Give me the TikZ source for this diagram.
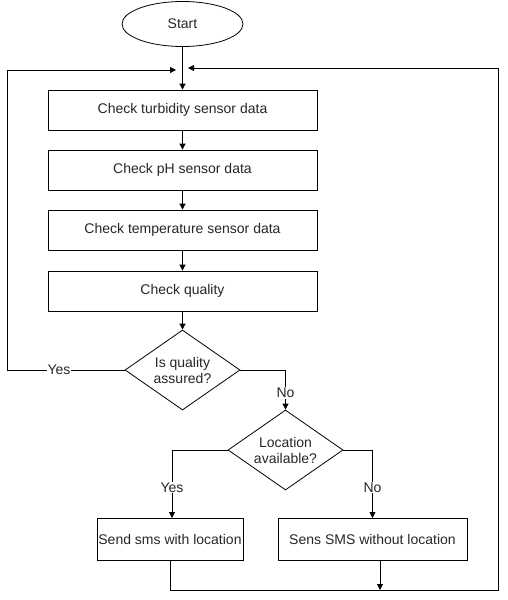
\documentclass[tikz,border=0pt]{standalone}
\usepackage{fontspec}
\setmainfont{Liberation Sans}
\usetikzlibrary{shapes.geometric,arrows.meta}
\begin{document}
\begin{tikzpicture}[x=1pt,y=-1pt,
  every node/.style={font=\fontsize{14}{16}\selectfont, text=black!85},
  proc/.style={draw, thick, minimum width=269pt, minimum height=40pt, inner sep=0pt},
  smallproc/.style={draw, thick, minimum height=42pt, inner sep=0pt},
  dec/.style={draw, thick, diamond, aspect=1.44, minimum width=115pt, minimum height=80pt, inner sep=0pt, align=center},
  term/.style={draw, thick, ellipse, minimum width=121pt, minimum height=45pt},
  lbl/.style={fill=white, inner sep=1pt},
  arr/.style={thick, -{Triangle[length=6pt,width=6pt]}},
  ln/.style={thick}]
\useasboundingbox (0,0) rectangle (507,600);
\node[term] (start) at (182.5,24) {Start};
\node[proc] (b1) at (182.5,110) {Check turbidity sensor data};
\node[proc] (b2) at (182.5,170) {Check pH sensor data};
\node[proc] (b3) at (182.5,230) {Check temperature sensor data};
\node[proc] (b4) at (182.5,291) {Check quality};
\node[dec] (d1) at (182.5,370) {Is quality\\assured?};
\node[dec] (d2) at (285.5,450) {Location\\available?};
\node[smallproc, minimum width=146pt] (s1) at (170,539.5) {Send sms with location};
\node[smallproc, minimum width=189pt] (s2) at (372.5,539.5) {Sens SMS without location};
\coordinate (lt) at (176,70);
\coordinate (rt) at (188,68);
\coordinate (bj) at (380,590);
\draw[arr] (start) -- (b1);
\draw[arr] (b1) -- (b2);
\draw[arr] (b2) -- (b3);
\draw[arr] (b3) -- (b4);
\draw[arr] (b4) -- (d1);
\draw[arr] (d1.west) -- (7.5,370) node[lbl, pos=0.56] {Yes} -- (7.5,70) -- (lt);
\draw[arr] (d1.east) -- (285.5,370) -- (d2.north) node[lbl, pos=0.58] {No};
\draw[arr] (d2.west) -- (172,450) -- (172,518) node[lbl, pos=0.55] {Yes};
\draw[arr] (d2.east) -- (372.5,450) -- (372.5,518) node[lbl, pos=0.55] {No};
\draw[arr] (s2.south -| bj) -- (bj);
\draw[arr] (s1.south) -- (170,590) -- (498,590) -- (498,68) -- (rt);
\end{tikzpicture}
\end{document}
